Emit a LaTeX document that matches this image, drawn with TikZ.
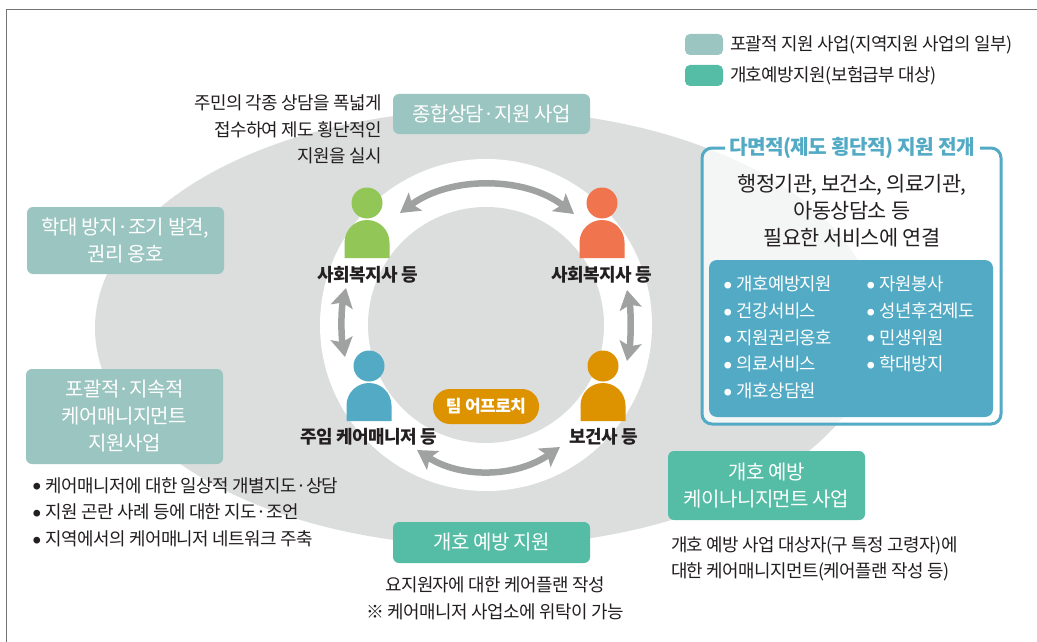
\documentclass[tikz,border=0pt]{standalone}
\usepackage{fontspec}
\setmainfont{Noto Sans CJK KR}[LetterSpace=-3]
\usetikzlibrary{arrows.meta}
\definecolor{ringgrey}{HTML}{DCDEDE}
\definecolor{palebox}{HTML}{9AC5C0}
\definecolor{greenbox}{HTML}{55BDA5}
\definecolor{framebl}{HTML}{52AAC5}
\definecolor{arrowgr}{HTML}{A0A2A2}
\definecolor{pgreen}{HTML}{92C656}
\definecolor{pred}{HTML}{F0744D}
\definecolor{porange}{HTML}{DD9200}
\definecolor{inktext}{HTML}{231F20}
\newcommand{\bul}{\raisebox{.12em}{\scalebox{.42}{●}}}
\tikzset{
  x=1pt,y=-1pt,
  every node/.style={inner sep=0pt,outer sep=0pt,text=inktext,font=\fontsize{17.9}{26}\selectfont},
  boxn/.style={rounded corners=6pt,align=center,text=white,font=\fontsize{20}{27}\selectfont,fill=palebox},
  greenn/.style={boxn,fill=greenbox},
  role/.style={font=\fontsize{18}{20}\selectfont\bfseries},
  swarrow/.style={draw=arrowgr,line width=6.5pt,{Stealth[length=19pt,width=22pt,inset=4pt]}-{Stealth[length=19pt,width=22pt,inset=4pt]}},
  bodytext/.style={align=left,font=\fontsize{17.9}{26.6}\selectfont},
  listtext/.style={align=left,text=white,font=\fontsize{17.8}{26.7}\selectfont}
}
\newcommand{\personfig}[3]{%
  \fill[#3] (#1,#2) circle (15.5);
  \fill[#3] (#1-22.5,#2+55) -- (#1-22.5,#2+39.5) arc[start angle=180,end angle=360,radius=22.5] -- (#1+22.5,#2+55) -- cycle;
}
\begin{document}
\begin{tikzpicture}
\useasboundingbox (0,0) rectangle (1037,642);
\fill[white] (0,0) rectangle (1037,642);
\draw[draw=black!55,line width=1pt] (6,642) -- (6,10) -- (1037,10);
\fill[ringgrey] (486,328) ellipse [x radius=391,y radius=218];
\fill[white] (486,325) circle (166);
\fill[ringgrey] (486,325) circle (118);

% legend
\node[fill=palebox,rounded corners=5pt,minimum width=38pt,minimum height=21pt] (s1) at (704,44.5) {};
\node[fill=greenbox,rounded corners=5pt,minimum width=38pt,minimum height=21pt] (s2) at (704,75.5) {};
\node[anchor=west] (l1) at (730,45) {포괄적 지원 사업(지역지원 사업의 일부)};
\node[anchor=west] (l2) at (730,76) {개호예방지원(보험급부 대상)};

% boxes
\node[boxn,minimum width=197pt,minimum height=40pt] (b1) at (491.5,114) {종합상담·지원 사업};
\node[boxn,minimum width=197pt,minimum height=67pt] (b2) at (125.5,240.5) {학대 방지·조기 발견,\\권리 옹호};
\node[boxn,minimum width=197pt,minimum height=95pt] (b3) at (124.5,416.5) {포괄적·지속적\\케어매니지먼트\\지원사업};
\node[greenn,minimum width=197pt,minimum height=41pt] (b4) at (491.5,542.5) {개호 예방 지원};
\node[greenn,minimum width=197pt,minimum height=69pt] (b5) at (766.5,485.5) {개호 예방\\케이나니지먼트 사업};

% texts
\node[bodytext,align=right,anchor=east] (t1) at (382,129.5) {주민의 각종 상담을 폭넓게\\접수하여 제도 횡단적인\\지원을 실시};
\node[bodytext,anchor=west] (t2) at (33,512) {\bul\hspace{5pt}케어매니저에 대한 일상적 개별지도·상담\\\bul\hspace{5pt}지원 곤란 사례 등에 대한 지도·조언\\\bul\hspace{5pt}지역에서의 케어매니저 네트워크 주축};
\node[bodytext,align=center] (t3) at (495,598.5) {요지원자에 대한 케어플랜 작성\\※ 케어매니저 사업소에 위탁이 가능};
\node[bodytext,anchor=west] (t4) at (671,559) {개호 예방 사업 대상자(구 특정 고령자)에\\대한 케어매니지먼트(케어플랜 작성 등)};

% people
\personfig{367}{203}{pgreen}
\personfig{602}{203}{pred}
\personfig{369}{366}{framebl}
\personfig{603}{366}{porange}
\node[role] (p1) at (368,275) {사회복지사 등};
\node[role] (p2) at (602,275) {사회복지사 등};
\node[role] (p3) at (369,437) {주임 케어매니저 등};
\node[role] (p4) at (604,437) {보건사 등};
\node[fill=porange,rounded corners=17pt,minimum width=106pt,minimum height=35pt,text=white,font=\fontsize{17}{20}\selectfont\bfseries] (team) at (486,406.5) {팀 어프로치};

% arrows
\coordinate (a1) at (400,213); \coordinate (a2) at (574,214);
\coordinate (a3) at (346,288); \coordinate (a4) at (345,357);
\coordinate (a5) at (627,290); \coordinate (a6) at (627,361);
\coordinate (a7) at (417,450); \coordinate (a8) at (560,447);
\draw[swarrow] (a1) .. controls (450,176) and (525,176) .. (a2);
\draw[swarrow] (a3) .. controls (341,310) and (341,335) .. (a4);
\draw[swarrow] (a5) .. controls (631,310) and (631,340) .. (a6);
\draw[swarrow] (a7) .. controls (460,478) and (515,478) .. (a8);

% frame
\fill[white,fill opacity=.7,rounded corners=10pt] (702,147) rectangle (1001,424);
\draw[draw=framebl,line width=3pt,rounded corners=10pt] (725,148) -- (702,148) -- (702,424) -- (1001,424) -- (1001,148) -- (980,148);
\node[text=framebl,font=\fontsize{20.2}{24}\selectfont\bfseries] (ft) at (852,148) {다면적(제도 횡단적) 지원 전개};
\node[align=center,font=\fontsize{20.8}{27}\selectfont] (fb) at (852,211) {행정기관, 보건소, 의료기관,\\아동상담소 등\\필요한 서비스에 연결};
\node[fill=framebl,rounded corners=8pt,minimum width=284pt,minimum height=157pt] (inner) at (851,338.5) {};
\node[listtext,anchor=west] (li1) at (724,337.5) {\bul\hspace{5pt}개호예방지원\\\bul\hspace{5pt}건강서비스\\\bul\hspace{5pt}지원권리옹호\\\bul\hspace{5pt}의료서비스\\\bul\hspace{5pt}개호상담원};
\node[listtext,anchor=west] (li2) at (867,324) {\bul\hspace{5pt}자원봉사\\\bul\hspace{5pt}성년후견제도\\\bul\hspace{5pt}민생위원\\\bul\hspace{5pt}학대방지};
\end{tikzpicture}
\end{document}
